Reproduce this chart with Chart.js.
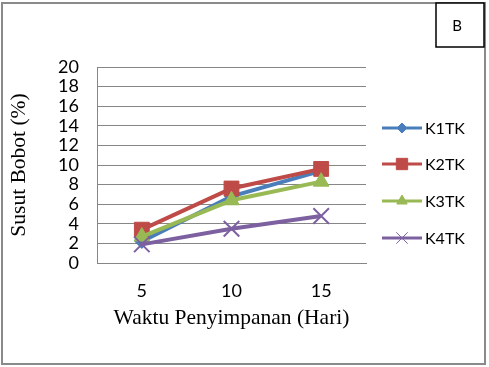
<!DOCTYPE html>
<html>
<head>
<meta charset="utf-8">
<script src="https://cdn.jsdelivr.net/npm/chart.js@4/dist/chart.umd.min.js"></script>
<style>
  html, body { margin: 0; padding: 0; background: #fff; }
  #wrap { width: 489px; height: 367px; position: relative; }
</style>
</head>
<body>
<div id="wrap"><canvas id="c" width="489" height="367"></canvas></div>
<script>
const categories = ['5', '10', '15'];
const seriesNames = ['K1TK', 'K2TK', 'K3TK', 'K4TK'];
const k1tk = [2.2, 6.8, 9.4];
const k2tk = [3.4, 7.6, 9.6];
const k3tk = [2.7, 6.4, 8.3];
const k4tk = [1.9, 3.5, 4.8];
const yTicks = [0, 2, 4, 6, 8, 10, 12, 14, 16, 18, 20];
const panelLabel = 'B';
const xTitle = 'Waktu Penyimpanan (Hari)';
const yTitle = 'Susut Bobot (%)';

const colors = ['#4A7EBB', '#BE4B48', '#98B954', '#7D60A0'];
const styles = [
  { pointStyle: 'rectRot', radius: 7, legendRadius: 5, borderWidth: 1, legendBorder: 1 },
  { pointStyle: 'rect', radius: 10.5, legendRadius: 8, borderWidth: 1, legendBorder: 1 },
  { pointStyle: 'triangle', radius: 9, legendRadius: 6, borderWidth: 1, legendBorder: 1 },
  { pointStyle: 'crossRot', radius: 11, legendRadius: 8, borderWidth: 2, legendBorder: 1 }
];
const values = [k1tk, k2tk, k3tk, k4tk];

const datasets = values.map((v, i) => ({
  label: seriesNames[i],
  data: v,
  borderColor: colors[i],
  backgroundColor: colors[i],
  borderWidth: 4,
  pointStyle: styles[i].pointStyle,
  pointRadius: styles[i].radius,
  pointHoverRadius: styles[i].radius,
  pointBorderWidth: styles[i].borderWidth,
  pointBackgroundColor: colors[i],
  pointBorderColor: colors[i],
  tension: 0,
  order: 3 - i
}));

const PLOT_LEFT = 97, PLOT_RIGHT = 366, PLOT_TOP = 67, PLOT_BOTTOM = 263;
const W = 489, H = 367;

const framePlugin = {
  id: 'frame',
  beforeDraw(chart) {
    const ctx = chart.ctx;
    ctx.save();
    ctx.fillStyle = '#fff';
    ctx.fillRect(0, 0, W, H);
    ctx.strokeStyle = '#8a8a8a';
    ctx.lineWidth = 2;
    ctx.strokeRect(2, 3, 483, 361);
    ctx.restore();
  },
  afterDraw(chart) {
    const ctx = chart.ctx;
    ctx.save();
    // panel label box
    ctx.fillStyle = '#fff';
    ctx.fillRect(436, 3, 48, 44);
    ctx.strokeStyle = '#000';
    ctx.lineWidth = 1.5;
    ctx.strokeRect(436, 3, 48, 44);
    ctx.fillStyle = '#000';
    ctx.font = '15px Lato, "Noto Sans", sans-serif';
    ctx.textAlign = 'center';
    ctx.textBaseline = 'middle';
    ctx.fillText(panelLabel, 457, 26);
    // legend
    const ys = [128, 164, 201, 238];
    chart.data.datasets.forEach((ds, i) => {
      const y = ys[i];
      ctx.strokeStyle = ds.borderColor;
      ctx.lineWidth = 3;
      ctx.beginPath();
      ctx.moveTo(382, y);
      ctx.lineTo(422, y);
      ctx.stroke();
      ctx.fillStyle = ds.borderColor;
      ctx.strokeStyle = ds.borderColor;
      ctx.lineWidth = styles[i].legendBorder;
      Chart.helpers.drawPoint(ctx, {
        pointStyle: styles[i].pointStyle,
        radius: styles[i].legendRadius,
        borderWidth: styles[i].legendBorder,
        rotation: 0
      }, 402, y);
      ctx.fillStyle = '#000';
      ctx.font = '16px Lato, "Noto Sans", sans-serif';
      ctx.textAlign = 'left';
      ctx.textBaseline = 'middle';
      ctx.fillText(ds.label, 425, y + 1);
    });
    ctx.restore();
  }
};

new Chart(document.getElementById('c'), {
  type: 'line',
  data: { labels: categories, datasets },
  options: {
    responsive: false,
    animation: false,
    devicePixelRatio: 1,
    layout: { padding: { left: 0, right: W - PLOT_RIGHT, top: PLOT_TOP, bottom: 0 } },
    plugins: { legend: { display: false }, tooltip: { enabled: false } },
    scales: {
      x: {
        offset: true,
        grid: { display: false, drawTicks: false },
        border: { display: true, color: '#868686', width: 1 },
        ticks: { color: '#000', font: { family: 'Lato, "Noto Sans", sans-serif', size: 18 }, padding: 17 },
        title: { display: true, text: xTitle, color: '#000', font: { family: '"Liberation Serif", "Times New Roman", serif', size: 21.5 }, padding: { top: 0, bottom: 36 } },
        afterFit(s) { s.height = H - PLOT_BOTTOM; }
      },
      y: {
        min: 0, max: 20,
        afterBuildTicks(s) { s.ticks = yTicks.map(v => ({ value: v })); },
        grid: { color: '#868686', lineWidth: 1, drawTicks: false },
        border: { display: true, color: '#868686', width: 1 },
        ticks: { color: '#000', font: { family: 'Lato, "Noto Sans", sans-serif', size: 18 }, padding: 18, autoSkip: false },
        title: { display: true, text: yTitle, color: '#000', font: { family: '"Liberation Serif", "Times New Roman", serif', size: 21.5 }, padding: { top: 6, bottom: 0 } },
        afterFit(s) { s.width = PLOT_LEFT; }
      }
    }
  },
  plugins: [framePlugin]
});
</script>
</body>
</html>
